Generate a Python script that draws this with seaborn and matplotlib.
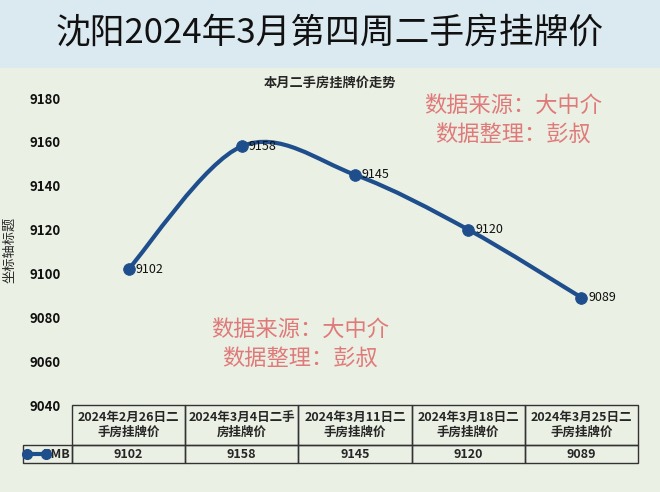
import matplotlib
matplotlib.use('Agg')
import matplotlib.pyplot as plt
from matplotlib.path import Path
from matplotlib.patches import PathPatch, Rectangle
from matplotlib.table import Table
from matplotlib.lines import Line2D
import seaborn as sns
import pandas as pd

# data
weeks = ['2024年2月26日二\n手房挂牌价', '2024年3月4日二手\n房挂牌价', '2024年3月11日二\n手房挂牌价',
         '2024年3月18日二\n手房挂牌价', '2024年3月25日二\n手房挂牌价']
prices = [9102, 9158, 9145, 9120, 9089]
series_name = 'RMB'
y_ticks = [9040, 9060, 9080, 9100, 9120, 9140, 9160, 9180]

title = '沈阳2024年3月第四周二手房挂牌价'
subtitle = '本月二手房挂牌价走势'
ylabel = '坐标轴标题'
note = '数据来源：大中介\n数据整理：彭叔'

sns.set_style('white')
plt.rcParams['font.family'] = ['Noto Sans CJK SC', 'DejaVu Sans']

BG = '#eaf0e3'
BANNER = '#dbe9f1'
LINE = '#1f4e8c'
W, H = 660, 492

fig = plt.figure(figsize=(6.6, 4.92), dpi=100)
fig.set_facecolor(BG)

# title banner
fig.patches.append(Rectangle((0, 1 - 68 / H), 1, 68 / H, transform=fig.transFigure,
                             facecolor=BANNER, edgecolor='none', zorder=0))
fig.text(0.5, 1 - 34 / H, title, ha='center', va='center', fontsize=25, color='#111111')

ax = fig.add_axes([72 / W, 1 - 405 / H, (638 - 72) / W, (405 - 98) / H])
ax.set_facecolor('none')
df = pd.DataFrame({'x': range(len(prices)), 'price': prices})

# smoothed line (Catmull-Rom -> cubic Bezier) through the data points
xs, ys = list(df['x']), list(df['price'])
n = len(xs)
verts = [(xs[0], ys[0])]
codes = [Path.MOVETO]
for i in range(n - 1):
    x0, y0 = (xs[i - 1], ys[i - 1]) if i > 0 else (xs[i], ys[i])
    x3, y3 = (xs[i + 2], ys[i + 2]) if i + 2 < n else (xs[i + 1], ys[i + 1])
    c1 = (xs[i] + (xs[i + 1] - x0) / 6, ys[i] + (ys[i + 1] - y0) / 6)
    c2 = (xs[i + 1] - (x3 - xs[i]) / 6, ys[i + 1] - (y3 - ys[i]) / 6)
    verts += [c1, c2, (xs[i + 1], ys[i + 1])]
    codes += [Path.CURVE4] * 3
ax.add_patch(PathPatch(Path(verts, codes), facecolor='none', edgecolor=LINE, lw=3, zorder=2))

sns.scatterplot(data=df, x='x', y='price', ax=ax, color=LINE, s=70, edgecolor=LINE,
                zorder=3, legend=False)
for x, y in zip(xs, ys):
    ax.annotate(str(y), (x, y), xytext=(5, 0), textcoords='offset points',
                ha='left', va='center', fontsize=9, color='#111111', zorder=4)

ax.set_xlim(-0.5, n - 0.5)
ax.set_ylim(y_ticks[0], y_ticks[-1])
ax.set_yticks(y_ticks)
ax.set_yticklabels([str(t) for t in y_ticks], fontsize=9.5, color='#111111', fontweight='bold')
ax.tick_params(axis='y', length=0, pad=8)
ax.set_xticks([])
ax.set_xlabel('')
ax.set_ylabel('')
for s in ax.spines.values():
    s.set_visible(False)

fig.text(10 / W, 1 - 250 / H, ylabel, rotation=90, ha='center', va='center', fontsize=9.5)
fig.text(0.5, 1 - 83 / H, subtitle, ha='center', va='center', fontsize=9.5, fontweight='bold')

# watermarks
for cx, cy in [(513, 120), (300, 344)]:
    fig.text(cx / W, 1 - cy / H, note, ha='center', va='center', fontsize=16,
             color='#e07a7a', linespacing=1.4)

# data table under the plot
tab = Table(ax, bbox=[(23 - 72) / 566, -58 / 307, (638 - 23) / 566, 58 / 307])
col_w = [49] + [113.4] * n
for j in range(n + 1):
    c = tab.add_cell(0, j, col_w[j], 40, text='' if j == 0 else weeks[j - 1], loc='center',
                     facecolor='none', edgecolor='#333333')
    if j == 0:
        c.visible_edges = ''
    c.get_text().set_fontweight('bold')
    c = tab.add_cell(1, j, col_w[j], 18, text=series_name if j == 0 else str(prices[j - 1]),
                     loc='right' if j == 0 else 'center', facecolor='none', edgecolor='#333333')
    c.get_text().set_fontweight('bold')
    c.PAD = 0.02
tab.auto_set_font_size(False)
tab.set_fontsize(9)
ax.add_table(tab)

# legend key inside the RMB cell
fig.add_artist(Line2D([27 / W, 46 / W], [1 - 454 / H, 1 - 454 / H], transform=fig.transFigure,
                      color=LINE, lw=3, marker='o', markersize=7))

fig.savefig('out.png', dpi=100, facecolor=BG)
